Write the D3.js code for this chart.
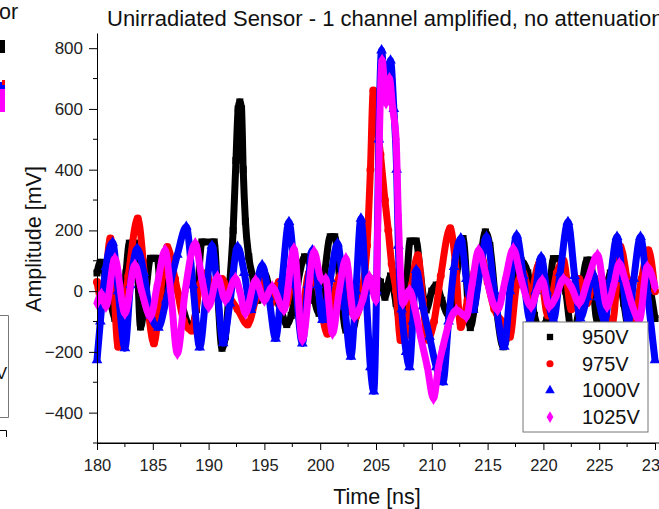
<!DOCTYPE html>
<html>
<head>
<meta charset="utf-8">
<script src="https://cdn.jsdelivr.net/npm/d3@7"></script>
<style>
body { margin: 0; background: #fff; }
svg { display: block; font-family: "Liberation Sans", Arial, sans-serif; }
</style>
</head>
<body>
<div id="chart-area"></div>
<script>
// series names and colours
var seriesNames = ["950V", "975V", "1000V", "1025V"];
var seriesColors = ["#000000", "#ff0000", "#0000ff", "#ff00ff"];

// 950V
var t950 = [180, 180.3, 180.9, 181.6, 182.2, 182.6, 182.9, 183.5, 183.9, 184.3, 184.8, 185.4, 185.8, 186.6, 187.4, 188.4, 188.9, 189.4, 190.5, 190.8, 191.2, 191.5, 191.9, 192.2, 192.45, 192.65, 192.8, 192.95, 193.1, 193.3, 193.6, 194.0, 194.4, 195.0, 195.6, 196.3, 197.0, 197.4, 198.0, 198.6, 199.0, 199.5, 199.9, 200.4, 200.9, 201.3, 201.8, 202.3, 202.9, 203.5, 204.0, 204.5, 205.0, 205.4, 205.8, 206.3, 206.8, 207.3, 207.7, 208.05, 208.6, 209.0, 209.5, 210.0, 210.4, 210.9, 211.5, 212.2, 212.8, 213.45, 213.8, 214.3, 214.8, 215.2, 215.8, 216.4, 216.9, 217.5, 218.0, 218.6, 219.2, 219.6, 220.3, 220.9, 221.5, 222.0, 222.6, 223.2, 223.9, 224.2, 224.8, 225.4, 226.0, 226.6, 227.2, 227.8, 228.4, 229.0, 229.6, 230];
var v950 = [60, 95, 20, -90, -110, 60, 158, 158, -118, -30, 108, 108, -40, 50, -20, -120, -60, 162, 162, 0, -188, -150, 30, 200, 430, 600, 623, 600, 400, 230, 113, 40, -30, 60, -10, -40, -110, -80, 30, 113, 100, -30, -73, 60, 179, 179, 20, -128, -128, -20, 20, 10, 40, 30, -20, 50, -40, -120, 0, 165, 165, 50, -62, 0, 20, -30, -80, 50, 173, -120, -60, 80, 195, 150, -60, -183, -120, 40, 100, 60, -80, -120, -95, 107, 107, 0, -150, -60, 102, 102, -95, -30, 60, 80, -40, -150, -60, 60, 0, -90];

// 975V
var t975 = [180, 180.5, 181.2, 181.9, 182.8, 183.65, 184.4, 185.1, 185.7, 186.3, 187.0, 187.8, 188.5, 189.2, 189.8, 190.5, 191.2, 191.9, 192.6, 193.5, 194.2, 194.8, 195.6, 196.3, 197.0, 197.6, 198.3, 199.0, 199.7, 200.65, 201.3, 202.0, 202.6, 203.2, 203.8, 204.2, 204.5, 204.76, 205.0, 205.4, 205.8, 206.1, 206.4, 206.8, 207.2, 207.6, 208.2, 208.75, 209.2, 209.6, 210.2, 210.8, 211.65, 212.1, 212.6, 213.2, 213.8, 214.4, 215.0, 215.6, 216.3, 217.0, 217.6, 218.2, 218.8, 219.6, 220.4, 221.2, 221.8, 222.5, 223.2, 223.9, 224.6, 225.4, 226.2, 226.9, 227.5, 228.1, 228.8, 229.4, 230];
var v975 = [30, -40, 173, -183, 50, 239, 0, -172, 0, 145, 40, -100, -130, 20, 60, -20, 40, -20, -60, -110, -30, 40, -40, 30, -40, 60, -80, 60, 20, -140, 0, 60, -50, -84, 10, 150, 400, 661, 580, 450, 300, 200, 90, 0, -161, -150, 20, 118, -30, -160, -100, 50, 207, 100, -118, -30, 60, 120, 30, -60, -100, -150, 20, 60, -20, 90, -80, 60, 100, -60, 40, -40, 40, -60, -100, 146, 40, -90, 40, 135, 0];

// 1000V
var t1000 = [180, 180.3, 180.8, 181.4, 181.9, 182.5, 183.0, 183.6, 184.2, 184.8, 185.5, 186.2, 187.2, 188.0, 188.6, 189.2, 189.8, 190.3, 190.8, 191.3, 191.9, 192.6, 193.2, 193.8, 194.8, 195.4, 196.0, 196.6, 197.2, 197.8, 198.4, 198.9, 199.3, 199.8, 200.2, 200.9, 201.55, 202.2, 202.75, 203.2, 203.65, 204.1, 204.5, 204.8, 205.05, 205.25, 205.5, 205.8, 206.05, 206.3, 206.6, 206.85, 207.0, 207.3, 207.7, 208.0, 208.3, 208.6, 209.2, 209.8, 210.4, 211.0, 211.5, 212.0, 212.6, 213.1, 213.7, 214.3, 214.9, 215.6, 216.5, 217.0, 217.6, 218.2, 218.8, 219.3, 219.8, 220.3, 220.9, 221.5, 222.2, 222.8, 223.3, 223.9, 224.4, 224.9, 225.5, 226.0, 226.6, 227.1, 227.6, 228.1, 228.7, 229.3, 230];
var v1000 = [-227, -100, 80, 160, 0, -188, 20, 140, 60, -80, -120, -30, 120, 212, 20, -185, 0, 150, 0, -171, -40, 146, 60, -62, 86, -20, -156, 40, 228, 20, -172, 20, 135, 20, -95, 40, 157, -50, -216, 0, 239, 0, -250, -330, 0, 500, 793, 660, 680, 760, 600, 400, 150, -60, -200, -250, -100, 70, -50, -150, -250, -300, -100, 80, 174, 40, -62, 60, 179, 0, -183, 0, 184, 50, -95, 0, 113, 0, -95, 60, 228, 50, -90, -20, 60, -20, -100, 40, 179, 40, -106, 40, 179, 0, -227];

// 1025V
var t1025 = [180, 180.4, 180.8, 181.6, 182.5, 183.4, 184.0, 184.8, 185.4, 186.1, 186.6, 187.2, 187.9, 188.8, 189.4, 190.0, 190.8, 191.5, 192.4, 192.8, 193.3, 194.2, 195.0, 195.7, 196.75, 197.65, 198.4, 199.45, 200.1, 200.5, 201.1, 201.7, 202.3, 203.05, 203.8, 204.4, 205.0, 205.15, 205.3, 205.55, 205.9, 206.2, 206.5, 206.8, 207.0, 207.2, 207.4, 208.0, 208.5, 209.0, 209.6, 210.15, 210.6, 211.0, 211.45, 212.2, 213.1, 213.6, 214.2, 214.8, 215.5, 215.9, 216.6, 217.3, 218.0, 218.9, 219.4, 219.9, 220.5, 221.1, 221.8, 222.5, 223.2, 224.0, 224.85, 225.7, 226.3, 226.8, 227.3, 227.9, 228.6, 229.3, 230];
var v1025 = [-40, -10, -50, 107, -73, 86, 0, -84, 20, 135, 0, -205, 0, 157, 40, -51, 47, -30, 42, 0, -73, 36, -30, 14, -62, 140, -161, 130, 40, 40, -139, 0, 107, -84, -30, 47, -30, 200, 500, 760, 620, 700, 600, 500, 250, 50, -40, 3, -60, -150, -250, -353, -250, -183, -117, -62, -84, 20, 135, 60, -40, -62, 40, 140, 40, -51, 0, 36, -51, -20, 40, 14, -40, 40, 119, -51, 20, 91, 40, -40, -95, 80, 14];

// axis ticks
var xTicks = [180, 185, 190, 195, 200, 205, 210, 215, 220, 225, 230];
var yTicks = [-400, -200, 0, 200, 400, 600, 800];

var times = [t950, t975, t1000, t1025];
var values = [v950, v975, v1000, v1025];
var symbols = [d3.symbolSquare, d3.symbolCircle, d3.symbolTriangle, d3.symbolDiamond];

var W = 659, H = 509;
var svg = d3.select("#chart-area").append("svg")
    .attr("width", W)
    .attr("height", H);
svg.append("rect").attr("width", W).attr("height", H).attr("fill", "#fff");

var x = d3.scaleLinear().domain([180, 230]).range([97, 655]);
var y = d3.scaleLinear().domain([-500, 850]).range([443, 33]);

// data
var series = seriesNames.map(function (name, i) {
    return {
        name: name,
        color: seriesColors[i],
        symbol: symbols[i],
        points: times[i].map(function (t, j) { return { t: t, v: values[i][j] }; })
    };
});

var line = d3.line()
    .x(function (d) { return x(d.t); })
    .y(function (d) { return y(d.v); })
    .curve(d3.curveMonotoneX);

var plot = svg.append("g");
series.forEach(function (s) {
    var g = plot.append("g");
    g.append("path")
        .datum(s.points)
        .attr("d", line)
        .attr("fill", "none")
        .attr("stroke", s.color)
        .attr("stroke-width", 7)
        .attr("stroke-linejoin", "round");
    g.selectAll("path.pt")
        .data(s.points)
        .enter().append("path")
        .attr("class", "pt")
        .attr("transform", function (d) { return "translate(" + x(d.t) + "," + y(d.v) + ")"; })
        .attr("d", d3.symbol().type(s.symbol).size(50))
        .attr("fill", s.color);
});

// axes
var xAxis = d3.axisBottom(x).tickValues(xTicks).tickSize(7).tickSizeOuter(0).tickPadding(9)
    .tickFormat(d3.format("d"));
var xg = svg.append("g").attr("transform", "translate(0,443)").call(xAxis);
xg.append("line").attr("x1", 97).attr("x2", W).attr("stroke", "#000");
xg.selectAll(".tick line").attr("stroke", "#000");
xg.selectAll("text").attr("font-size", "16.5px").attr("fill", "#222")
    .attr("font-family", "Liberation Sans, Arial, sans-serif");
xg.selectAll(".x-minor").data(xTicks.slice(0, -1).map(function (d) { return d + 2.5; }))
    .enter().append("line")
    .attr("x1", function (d) { return x(d); }).attr("x2", function (d) { return x(d); })
    .attr("y1", 0).attr("y2", 4).attr("stroke", "#000");

var yAxis = d3.axisLeft(y).tickValues(yTicks).tickSize(8).tickSizeOuter(0).tickPadding(6);
var yg = svg.append("g").attr("transform", "translate(97,0)").call(yAxis);
yg.selectAll("text").attr("font-size", "17px").attr("fill", "#222")
    .attr("font-family", "Liberation Sans, Arial, sans-serif");
yg.selectAll(".y-minor").data([-500, -300, -100, 100, 300, 500, 700])
    .enter().append("line")
    .attr("y1", function (d) { return y(d); }).attr("y2", function (d) { return y(d); })
    .attr("x1", 0).attr("x2", -4).attr("stroke", "#000");

// titles
svg.append("text")
    .attr("x", 107).attr("y", 26)
    .attr("font-size", "22px").attr("fill", "#111")
    .text("Unirradiated Sensor - 1 channel amplified, no attenuation");
svg.append("text")
    .attr("transform", "translate(41,239) rotate(-90)")
    .attr("text-anchor", "middle")
    .attr("font-size", "21.5px").attr("fill", "#111")
    .text("Amplitude [mV]");
svg.append("text")
    .attr("x", 377).attr("y", 504)
    .attr("text-anchor", "middle")
    .attr("font-size", "21.5px").attr("fill", "#111")
    .text("Time [ns]");

// legend
var legend = svg.append("g").attr("transform", "translate(523,322)");
legend.append("rect")
    .attr("width", 125).attr("height", 110)
    .attr("fill", "#fff").attr("stroke", "#777").attr("stroke-width", 1);
series.forEach(function (s, i) {
    var row = legend.append("g").attr("transform", "translate(0," + (15 + i * 26.7) + ")");
    row.append("path")
        .attr("transform", "translate(27,0)")
        .attr("d", d3.symbol().type(s.symbol).size(40))
        .attr("fill", s.color);
    row.append("text")
        .attr("x", 59).attr("y", 7)
        .attr("font-size", "20px").attr("fill", "#111")
        .text(s.name);
});

// cropped pieces of the neighbouring chart at the left edge
var edge = svg.append("g");
edge.append("text").attr("x", -1).attr("y", 18.5).attr("font-size", "21.5px").attr("fill", "#111").text("or");
edge.append("rect").attr("x", 0).attr("y", 40).attr("width", 5).attr("height", 13).attr("fill", "#000");
edge.append("rect").attr("x", 0).attr("y", 88).attr("width", 5).attr("height", 24).attr("fill", "#ff00ff");
edge.append("rect").attr("x", 0).attr("y", 82).attr("width", 5).attr("height", 7).attr("fill", "#0000ff");
edge.append("rect").attr("x", 2).attr("y", 80).attr("width", 3).attr("height", 5).attr("fill", "#ff0000");
edge.append("path").attr("d", "M0,315.5H8.5V417.5H0").attr("fill", "none").attr("stroke", "#777");
edge.append("text").attr("x", 7).attr("y", 379).attr("text-anchor", "end").attr("font-size", "17px").attr("fill", "#111").text("V");
edge.append("path").attr("d", "M0,430.5H6.5V437").attr("fill", "none").attr("stroke", "#000");
</script>
</body>
</html>
